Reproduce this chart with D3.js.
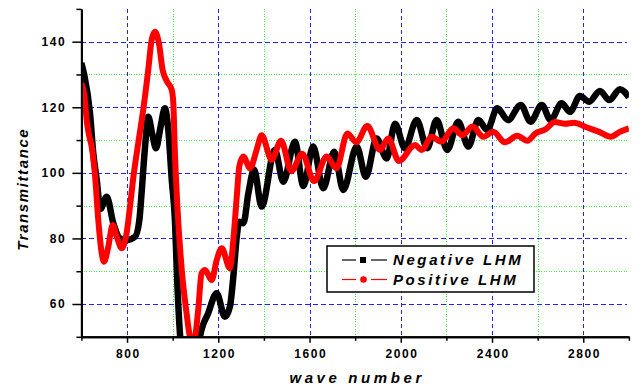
<!DOCTYPE html>
<html>
<head>
<meta charset="utf-8">
<script src="https://cdn.jsdelivr.net/npm/d3@7"></script>
<style>
  html, body { margin: 0; padding: 0; background: #fff; }
  .chart text { font-family: Arial, "Liberation Sans", sans-serif; }
  .tick-label { font-size: 12px; font-weight: bold; letter-spacing: 1.6px; fill: #000; }
  .axis-title { font-size: 15px; font-weight: bold; font-style: italic; fill: #000; }
  .legend-label { font-size: 15px; font-weight: bold; font-style: italic; letter-spacing: 2.6px; fill: #000; }
</style>
</head>
<body>
<div id="chart"></div>
<script>
// Negative LHM (black squares)
const negWave = [600, 612, 638, 652, 667, 683, 711, 740, 769, 798,
  835, 854, 864, 879, 893, 910, 927, 947, 966, 981,
  996, 1010, 1020, 1032, 1045, 1080, 1110, 1120, 1156, 1193,
  1229, 1251, 1266, 1281, 1292, 1310, 1332, 1357, 1390, 1448,
  1485, 1536, 1573, 1616, 1660, 1708, 1748, 1807, 1847, 1894,
  1938, 1975, 2018, 2070, 2116, 2157, 2204, 2252, 2296, 2340,
  2379, 2423, 2470, 2526, 2569, 2618, 2657, 2705, 2742, 2785,
  2826, 2873, 2914, 2961, 3000];
const negTrans = [133.5, 130, 118, 106, 98, 89, 92.7, 84.6, 80, 79.5,
  80.5, 85.6, 94, 108, 117.1, 112, 107.5, 114, 119.7, 113,
  98, 85.6, 67, 51, 42, 38, 45, 50, 57.2, 63.3,
  56.1, 59.2, 68.3, 80.5, 85.1, 84.6, 93.8, 101, 89.7, 107,
  97.3, 109.5, 96, 108, 95.3, 106.4, 94.8, 108, 98.8, 110.5,
  104.4, 115, 107.5, 116.1, 107.5, 116.1, 107, 115.6, 108, 116.1,
  113.1, 119.7, 116.1, 120.7, 115.6, 120.7, 116.1, 121.2, 118.6, 123.4,
  121.7, 125, 122.2, 125.5, 123];

// Positive LHM (red circles)
const posWave = [600, 612, 625, 635, 645, 660, 674, 689, 699, 718,
  737, 755, 777, 798, 813, 828, 849, 871, 893, 908,
  922, 940, 956, 976, 996, 1003, 1010, 1020, 1040, 1061,
  1073, 1085, 1098, 1112, 1127, 1142, 1171, 1193, 1215, 1251,
  1266, 1281, 1292, 1310, 1339, 1368, 1390, 1434, 1475, 1520,
  1568, 1620, 1675, 1718, 1766, 1805, 1853, 1909, 1945, 1992,
  2062, 2092, 2135, 2178, 2230, 2270, 2315, 2362, 2405, 2457,
  2510, 2555, 2590, 2635, 2675, 2720, 2760, 2810, 2870, 2920,
  2960, 3000];
const posTrans = [127.3, 124, 115, 111, 108, 99, 85.6, 75.5, 72.9, 77.5,
  84.1, 80.5, 77, 81.6, 89.7, 98.8, 109, 119.2, 131.4, 140.5,
  143, 139.5, 131.4, 127.8, 125.3, 121.2, 106, 90.7, 70.4, 57.2,
  51, 47, 49.6, 58.2, 69.4, 70.4, 67.3, 73.4, 77, 70.9,
  79.5, 92.7, 101.9, 105, 101.4, 107, 111.5, 104, 109.8, 100.5,
  105.8, 97.5, 105, 101.4, 112, 109.3, 114.3, 107, 110.5, 103.6,
  108.5, 107, 111, 109.5, 113.6, 111.5, 114.1, 111, 112.5, 109.3,
  111.3, 109.8, 112, 113.3, 115.5, 115, 115.3, 114, 112.5, 111,
  112.5, 113.6];

const seriesNames = ['Negative LHM', 'Positive LHM'];
const seriesColors = ['#000000', '#ff0000'];

const xMajorTicks = [800, 1200, 1600, 2000, 2400, 2800];
const xMinorTicks = [600, 1000, 1400, 1800, 2200, 2600, 3000];
const yMajorTicks = [60, 80, 100, 120, 140];
const yMinorTicks = [50, 70, 90, 110, 130, 150];

class Chart {
  constructor(target) {
    this.container = target;
    this.setDimensions();
    this.setScales();
    this.drawScene();
  }

  setDimensions() {
    this.dimensions = { width: 644, height: 390 };
    this.margins = { top: 8.9, right: 15.1, bottom: 53.2, left: 81.4 };
  }

  setScales() {
    const { width, height } = this.dimensions;
    this.xScale = d3.scaleLinear()
      .domain([600, 3000])
      .range([this.margins.left, width - this.margins.right]);
    this.yScale = d3.scaleLinear()
      .domain([50, 150])
      .range([height - this.margins.bottom, this.margins.top]);
  }

  drawScene() {
    this.scene = d3.select(this.container)
      .append('svg')
      .attr('width', this.dimensions.width)
      .attr('height', this.dimensions.height)
      .attr('class', 'chart');

    this.scene.append('defs')
      .append('clipPath')
      .attr('id', 'plot-clip')
      .append('rect')
      .attr('x', this.xScale(600))
      .attr('y', this.yScale(150))
      .attr('width', this.xScale(3000) - this.xScale(600))
      .attr('height', this.yScale(50) - this.yScale(150));
  }

  draw() {
    this.drawGrid();
    this.drawSeries(negWave, negTrans, seriesColors[0], 6.5);
    this.drawSeries(posWave, posTrans, seriesColors[1], 6);
    this.drawAxes();
    this.drawLegend();
  }

  drawGrid() {
    const grid = this.scene.append('g').attr('class', 'grid').attr('shape-rendering', 'crispEdges');
    const x0 = this.xScale(600);
    const x1 = this.xScale(3000) - 2;
    const y0 = this.yScale(50);
    const y1 = this.yScale(150);

    grid.selectAll('.gx-minor')
      .data(xMinorTicks.slice(1, -1))
      .join('line')
      .attr('x1', d => Math.round(this.xScale(d)) + 0.5)
      .attr('x2', d => Math.round(this.xScale(d)) + 0.5)
      .attr('y1', y1).attr('y2', y0)
      .attr('stroke', '#44ee44').attr('stroke-dasharray', '1,1.5');

    grid.selectAll('.gy-minor')
      .data(yMinorTicks.slice(1, -1))
      .join('line')
      .attr('y1', d => Math.round(this.yScale(d)) + 0.5)
      .attr('y2', d => Math.round(this.yScale(d)) + 0.5)
      .attr('x1', x0).attr('x2', x1)
      .attr('stroke', '#44ee44').attr('stroke-dasharray', '1,1.5');

    grid.selectAll('.gx-major')
      .data(xMajorTicks)
      .join('line')
      .attr('x1', d => Math.round(this.xScale(d)) + 0.5)
      .attr('x2', d => Math.round(this.xScale(d)) + 0.5)
      .attr('y1', y1).attr('y2', y0)
      .attr('stroke', '#2222ff').attr('stroke-dasharray', '4,3');

    grid.selectAll('.gy-major')
      .data(yMajorTicks)
      .join('line')
      .attr('y1', d => Math.round(this.yScale(d)) + 0.5)
      .attr('y2', d => Math.round(this.yScale(d)) + 0.5)
      .attr('x1', x0).attr('x2', x1)
      .attr('stroke', '#2222ff').attr('stroke-dasharray', '5,3');
  }

  drawSeries(xs, ys, color, width) {
    const points = xs.map((x, i) => [x, ys[i]]);
    const line = d3.line()
      .x(d => this.xScale(d[0]))
      .y(d => this.yScale(d[1]))
      .curve(d3.curveMonotoneX);

    this.scene.append('path')
      .datum(points)
      .attr('clip-path', 'url(#plot-clip)')
      .attr('fill', 'none')
      .attr('stroke', color)
      .attr('stroke-width', width)
      .attr('stroke-linejoin', 'round')
      .attr('d', line);
  }

  drawAxes() {
    const { height } = this.dimensions;
    const bottomY = height - this.margins.bottom;
    const fmt = d3.format('d');

    const bottomMajor = d3.axisBottom(this.xScale).tickValues(xMajorTicks).tickFormat(fmt).tickSize(6).tickSizeOuter(0);
    const bottomMinor = d3.axisBottom(this.xScale).tickValues(xMinorTicks).tickSize(4).tickFormat('').tickSizeOuter(0);
    const leftMajor = d3.axisLeft(this.yScale).tickValues(yMajorTicks).tickFormat(fmt).tickSize(9).tickSizeOuter(0);
    const leftMinor = d3.axisLeft(this.yScale).tickValues(yMinorTicks).tickSize(5).tickFormat('').tickSizeOuter(0);

    const xg = this.scene.append('g').attr('transform', `translate(0, ${bottomY})`);
    xg.append('g').call(bottomMinor);
    xg.append('g').call(bottomMajor);

    const yg = this.scene.append('g').attr('transform', `translate(${this.margins.left}, 0)`);
    yg.append('g').call(leftMinor);
    yg.append('g').call(leftMajor);

    [xg, yg].forEach(g => {
      g.selectAll('.domain').attr('stroke', '#000').attr('stroke-width', 2);
      g.selectAll('.tick line').attr('stroke', '#000').attr('stroke-width', 1.5);
      g.selectAll('.tick text')
        .attr('class', 'tick-label')
        .attr('font-size', null)
        .attr('font-family', null);
    });
    xg.selectAll('.tick text').attr('dy', '1.05em').attr('dx', '0.8');
    yg.selectAll('.tick text').attr('x', -15);

    this.scene.append('text')
      .attr('class', 'axis-title')
      .attr('x', (this.xScale(600) + this.xScale(3000)) / 2 + 2)
      .attr('y', 383)
      .attr('text-anchor', 'middle')
      .attr('letter-spacing', 3.6)
      .text('wave number');

    this.scene.append('text')
      .attr('class', 'axis-title')
      .attr('transform', `translate(28, ${this.yScale(95)}) rotate(-90)`)
      .attr('text-anchor', 'middle')
      .attr('letter-spacing', 1.6)
      .text('Transmittance');
  }

  drawLegend() {
    const legend = this.scene.append('g').attr('transform', 'translate(327, 246)');
    legend.append('rect')
      .attr('width', 207).attr('height', 46)
      .attr('fill', '#fff').attr('stroke', '#000').attr('stroke-width', 1.5);

    const rows = legend.selectAll('.legend-row')
      .data(seriesNames)
      .join('g')
      .attr('transform', (d, i) => `translate(0, ${14 + i * 19.5})`);

    rows.append('line').attr('x1', 15).attr('x2', 29).attr('stroke', (d, i) => seriesColors[i]).attr('stroke-width', 1.2);
    rows.append('line').attr('x1', 44).attr('x2', 60).attr('stroke', (d, i) => seriesColors[i]).attr('stroke-width', 1.2);
    rows.filter((d, i) => i === 0).append('rect')
      .attr('x', 33).attr('y', -3).attr('width', 6).attr('height', 6).attr('fill', seriesColors[0]);
    rows.filter((d, i) => i === 1).append('circle')
      .attr('cx', 36.5).attr('r', 3.3).attr('fill', seriesColors[1]);

    rows.append('text')
      .attr('class', 'legend-label')
      .attr('x', 66)
      .attr('dy', '0.36em')
      .text(d => d);
  }
}

const chart = new Chart('#chart');
chart.draw();
</script>
</body>
</html>
